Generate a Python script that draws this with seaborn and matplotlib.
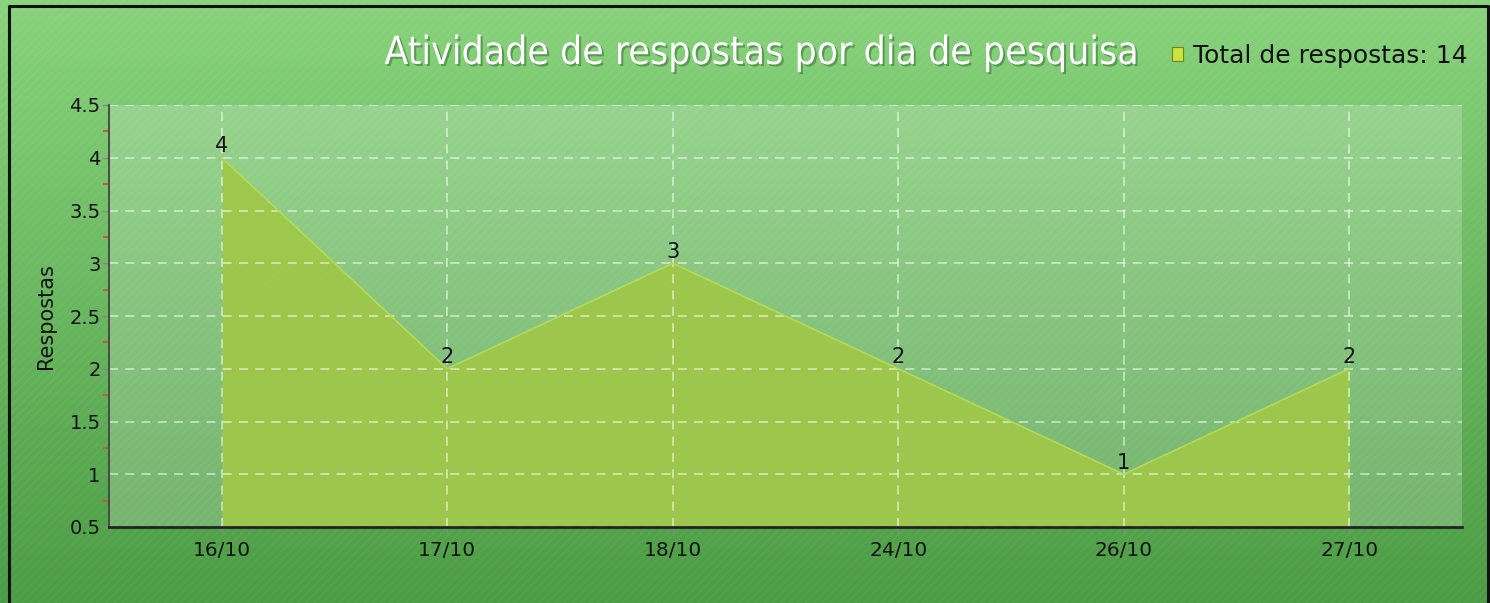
import numpy as np
import pandas as pd
import matplotlib
matplotlib.use("Agg")
import matplotlib.pyplot as plt
import matplotlib.patheffects as pe
from matplotlib.patches import Patch, Rectangle
from matplotlib.lines import Line2D
from matplotlib.ticker import MultipleLocator
import seaborn as sns

# ---- data ----
categories = ["16/10", "17/10", "18/10", "24/10", "26/10", "27/10"]
respostas = [4, 2, 3, 2, 1, 2]
y_ticks = [0.5, 1, 1.5, 2, 2.5, 3, 3.5, 4, 4.5]
y_tick_labels = ["0.5", "1", "1.5", "2", "2.5", "3", "3.5", "4", "4.5"]
title = "Atividade de respostas por dia de pesquisa"
y_label = "Respostas"
legend_label = f"Total de respostas: {sum(respostas)}"

df = pd.DataFrame({"dia": categories, "respostas": respostas})

sns.set_theme(style="white")
plt.rcParams["font.family"] = ["DejaVu Sans"]
plt.rcParams["hatch.linewidth"] = 1.5

fig = plt.figure(figsize=(14.9, 6.03), dpi=100)

# gradient background
bg = fig.add_axes([0, 0, 1, 1], zorder=-10)
top = np.array([0x88, 0xd3, 0x7c]) / 255
bot = np.array([0x4b, 0x9c, 0x44]) / 255
t = np.linspace(0, 1, 256)[:, None]
grad = top[None, :] * (1 - t) + bot[None, :] * t
bg.imshow(grad[:, None, :], aspect="auto", extent=[0, 1, 0, 1], origin="upper")
bg.add_patch(Rectangle((0, 0), 1, 1, transform=bg.transAxes, facecolor="none",
                       edgecolor=(1, 1, 1, 0.04), hatch="////", linewidth=0))
bg.set_xlim(0, 1); bg.set_ylim(0, 1)
bg.axis("off")

ax = fig.add_axes([109 / 1490, 1 - 527 / 603, (1462 - 109) / 1490, (527 - 105) / 603])
ax.set_facecolor((1, 1, 1, 0.2))

x = np.arange(len(categories))
ax.fill_between(x, respostas, 0.5, color="#9ec84b", alpha=0.97, zorder=2, linewidth=0)
sns.lineplot(data=df, x="dia", y="respostas", ax=ax, color="#b5da55", linewidth=1.2,
             sort=False, zorder=3)

for xi, v in zip(x, respostas):
    ax.annotate(str(v), (xi, v), xytext=(0, 1), textcoords="offset points",
                ha="center", va="bottom", fontsize=15, color="#111111", zorder=5)

ax.set_xlim(-0.5, len(categories) - 0.5)
ax.set_ylim(0.5, 4.5)
ax.set_xticks(x)
ax.set_xticklabels(categories, fontsize=14.5, color="#111111")
ax.set_yticks(y_ticks)
ax.set_yticklabels(y_tick_labels, fontsize=14, color="#111111")
ax.yaxis.set_minor_locator(MultipleLocator(0.25))
ax.tick_params(axis="y", which="major", left=True, length=5, width=1, color="#888888", pad=1)
ax.tick_params(axis="y", which="minor", left=True, length=4, width=1.3, color="#d0542c")
ax.tick_params(axis="x", which="major", bottom=True, length=4, width=1, color="#888888", pad=6)
ax.set_xlabel("")
ax.set_ylabel(y_label, fontsize=15, color="#111111", labelpad=10)

ax.grid(True, which="major", color="white", alpha=0.55, linestyle=(0, (5, 4)), linewidth=1.3, zorder=4)
ax.set_axisbelow(False)
for s in ["top", "right"]:
    ax.spines[s].set_visible(False)
ax.spines["left"].set_color("#444444")
ax.spines["left"].set_linewidth(1.3)
ax.spines["bottom"].set_color("#222222")
ax.spines["bottom"].set_linewidth(2)
for s in ax.spines.values():
    s.set_zorder(6)

# title
fig.text(761 / 1490, 1 - 53 / 603, title, ha="center", va="center", fontsize=28,
         fontstretch="condensed", color="white",
         path_effects=[pe.withSimplePatchShadow(offset=(1.5, -1.5), shadow_rgbFace="#3a7a35", alpha=0.6)])

# legend
handle = Patch(facecolor="#cbe23f", edgecolor="#6a8a20", linewidth=0.8)
fig.legend([handle], [legend_label], loc="center left", bbox_to_anchor=(1167 / 1490, 1 - 56 / 603),
           frameon=False, fontsize=18, handlelength=0.45, handleheight=0.45, handletextpad=0.4,
           labelcolor="#111111", borderaxespad=0, borderpad=0.2)

# dark border (left, top, right)
fig.add_artist(Line2D([8.5 / 1490, 8.5 / 1490, 1487.5 / 1490, 1487.5 / 1490],
                      [0, 1 - 5.5 / 603, 1 - 5.5 / 603, 0], transform=fig.transFigure,
                      color="#111111", linewidth=2.2))

fig.savefig("out.png", dpi=100)
